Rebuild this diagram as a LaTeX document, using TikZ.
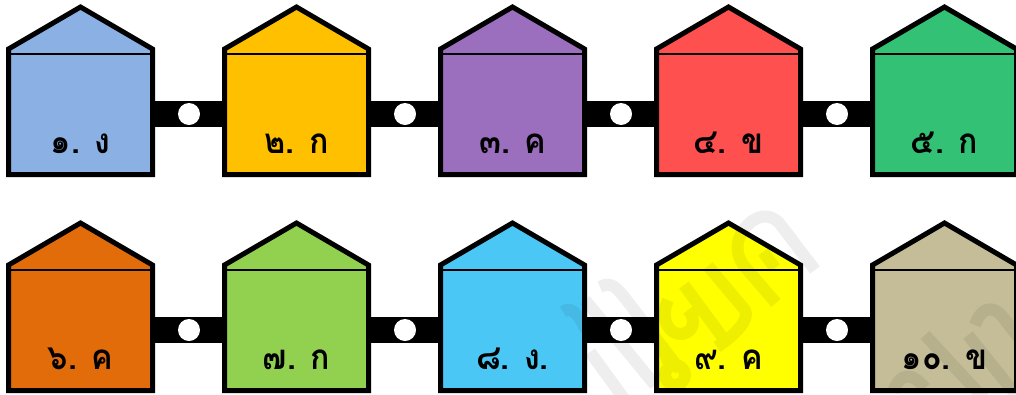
\documentclass[tikz,border=0pt]{standalone}
\usepackage{fontspec}
\newfontfamily\thaifont[Script=Thai,FakeStretch=0.92]{Loma}
\definecolor{c1}{HTML}{8BB0E3}
\definecolor{c2}{HTML}{FFC000}
\definecolor{c3}{HTML}{9B6FBE}
\definecolor{c4}{HTML}{FF5050}
\definecolor{c5}{HTML}{33C175}
\definecolor{c6}{HTML}{E36C0A}
\definecolor{c7}{HTML}{92D050}
\definecolor{c8}{HTML}{4BC7F5}
\definecolor{c9}{HTML}{FFFF00}
\definecolor{c10}{HTML}{C4BD97}
\tikzset{x=1pt,y=-1pt,
 wall/.style={draw=black,line width=5pt,miter limit=10,line join=miter},
 eave/.style={draw=black,line width=1.5pt},
 link/.style={fill=black},
 hole/.style={circle,fill=white,draw=none,minimum size=22pt,inner sep=0pt},
 ans/.style={font=\thaifont\bfseries\fontsize{35}{35}\selectfont,text=black,inner sep=0pt,anchor=base},
 mark stroke/.style={draw=black,line width=12pt,opacity=0.065,line join=round}
}
\newcommand{\house}[5]{% x, ytop, colour, label, name
 \begin{scope}[shift={(#1,#2)}]
 \draw[wall,fill=#3] (0,42) -- (72,0) -- (144,42) -- (144,167.5) -- (0,167.5) -- cycle;
 \draw[eave] (0,47) -- (144,47);
 \node[ans] (#5) at (72,146) {#4};
 \end{scope}}
\begin{document}
\begin{tikzpicture}
\useasboundingbox (0,0) rectangle (1016,394);
\house{8.5}{7}{c1}{๑. ง}{a1}
\house{224.5}{7}{c2}{๒. ก}{a2}
\house{440.5}{7}{c3}{๓. ค}{a3}
\house{656.5}{7}{c4}{๔. ข}{a4}
\house{872.5}{7}{c5}{๕. ก}{a5}
\house{8.5}{223}{c6}{๖. ค}{a6}
\house{224.5}{223}{c7}{๗. ก}{a7}
\house{440.5}{223}{c8}{๘. ง.}{a8}
\house{656.5}{223}{c9}{๙. ค}{a9}
\house{872.5}{223}{c10}{๑๐. ข}{a10}
% faint illegible watermark
\begin{scope}
\clip (0,0) rectangle (1016,394);
\draw[mark stroke]
 (815,270) -- (780,224) .. controls (770,212) and (755,215) .. (745,228) .. controls (735,240) and (735,255) .. (745,267) -- (776,303)
 (763,252) -- (775,268)
 (708,266) -- (745,310) .. controls (750,320) and (735,335) .. (717,347)
 (684,285) -- (723,338)
 (668,300) .. controls (660,318) and (668,335) .. (682,334) .. controls (695,332) and (696,318) .. (688,310)
 (662,345) -- (668,362) (675,375) circle[radius=10]
 (600,287) .. controls (612,280) and (618,290) .. (625,298) -- (680,370)
 (585,300) -- (655,385)
 (590,352) -- (625,400)
 (563,312) .. controls (572,304) and (580,318) .. (586,330)
 (975,325) .. controls (982,305) and (995,305) .. (1005,320) -- (1030,352)
 (968,335) -- (1020,400)
 (925,335) -- (985,400)
 (893,392) .. controls (900,372) and (912,372) .. (925,388);
\end{scope}
\foreach \xx/\yy in {153/101,369/101,585/101,801/101,153/317,369/317,585/317,801/317}{
 \fill[link] (\xx,\yy) rectangle ++(72,26);
 \node[hole] at (\xx+36,\yy+13) {};
}
\end{tikzpicture}
\end{document}
